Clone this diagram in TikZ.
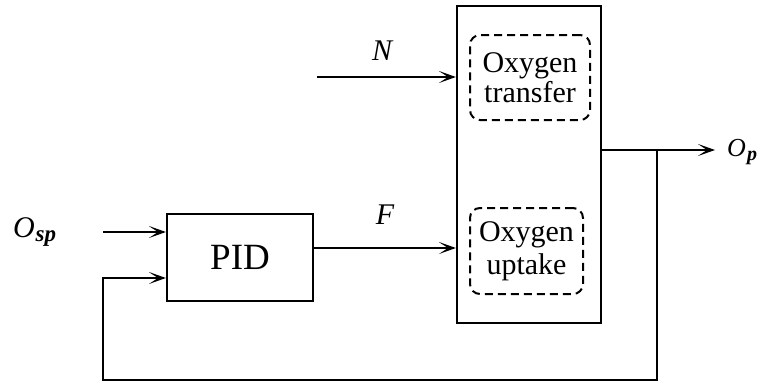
\documentclass[tikz,border=0pt]{standalone}
\usepackage{fontspec}
\setmainfont{Liberation Serif}
\usetikzlibrary{arrows.meta}
\begin{document}
\begin{tikzpicture}[x=1pt,y=-1pt,
  line width=2pt,
  arr/.style={-{Stealth[length=17pt,width=12pt,inset=9pt]}},
  block/.style={draw,line width=2.2pt,inner sep=0pt},
  dbox/.style={draw,dashed,dash pattern=on 8pt off 5pt,rounded corners=10pt,line width=2pt,inner sep=0pt,align=center,font=\fontsize{30}{29}\selectfont},
  lab/.style={inner sep=0pt,font=\fontsize{30}{30}\selectfont\itshape}]
\useasboundingbox (0,0) rectangle (760,383);
\node[block,minimum width=144pt,minimum height=317pt] (main) at (529,164.5) {};
\node[block,minimum width=146pt,minimum height=87pt,font=\fontsize{37}{37}\selectfont] (pid) at (240,257.5) {PID};
\node[dbox,minimum width=120pt,minimum height=85pt] (ot) at (530,77.5) {Oxygen\\[1pt]transfer};
\node[dbox,minimum width=113pt,minimum height=86pt] (ou) at (526.5,251) {Oxygen\\[4pt]uptake};
\coordinate (nstart) at (317,77);
\coordinate (fy) at (0,248);
\coordinate (ostart) at (103,232);
\coordinate (out) at (715,150);
\coordinate (jn) at (657,150);
\coordinate (bot) at (657,380);
\coordinate (fbl) at (103,380);
\coordinate (fbu) at (103,278);
\node[lab] (N) at (382,51) {N};
\node[lab] (F) at (385,215) {F};
\node[lab,anchor=west] (osp) at (12,232) {O\kern1pt\raisebox{-4pt}{\fontsize{23}{23}\selectfont\bfseries sp}};
\node[lab,anchor=east,font=\fontsize{26}{26}\selectfont\itshape] (op) at (758,152) {O\kern1pt\raisebox{-4pt}{\fontsize{20}{20}\selectfont\bfseries p}};
\draw[arr] (nstart) -- (nstart -| main.west);
\draw[arr] (pid.east |- fy) -- (main.west |- fy);
\draw[arr] (ostart) -- (ostart -| pid.west);
\draw[arr] (main.east |- out) -- (out);
\draw[arr] (jn) -- (bot) -- (fbl) -- (fbu) -- (fbu -| pid.west);
\end{tikzpicture}
\end{document}
